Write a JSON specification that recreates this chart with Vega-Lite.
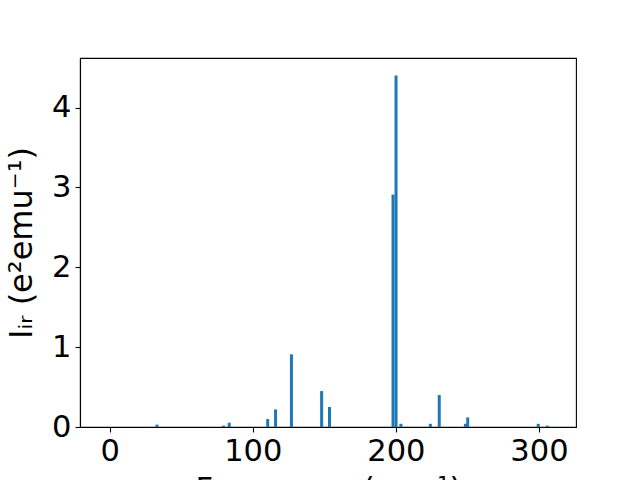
{
  "$schema": "https://vega.github.io/schema/vega-lite/v6.json",
  "width": 496,
  "height": 369,
  "autosize": {"type": "none"},
  "padding": {"left": 80, "top": 58, "right": 64, "bottom": 53},
  "background": "white",
  "config": {
    "view": {"stroke": "black", "strokeWidth": 1.1},
    "axis": {
      "grid": false,
      "domainColor": "black",
      "domainWidth": 1.1,
      "tickColor": "black",
      "tickWidth": 1.1,
      "tickSize": 5,
      "labelFont": "DejaVu Sans",
      "labelFontSize": 30.5,
      "labelColor": "black",
      "titleFont": "DejaVu Sans",
      "titleFontSize": 30.5,
      "titleFontWeight": "normal",
      "titleColor": "black",
      "labelPadding": 4
    }
  },
  "data": {
    "values": [
      {"freq": 33, "ir": 0.03},
      {"freq": 79.5, "ir": 0.017},
      {"freq": 83.5, "ir": 0.054},
      {"freq": 110.4, "ir": 0.10},
      {"freq": 115.9, "ir": 0.22},
      {"freq": 127, "ir": 0.91},
      {"freq": 148.1, "ir": 0.45},
      {"freq": 153.6, "ir": 0.25},
      {"freq": 198, "ir": 2.91},
      {"freq": 200.1, "ir": 4.40},
      {"freq": 203.5, "ir": 0.04},
      {"freq": 224.1, "ir": 0.04},
      {"freq": 230.3, "ir": 0.40},
      {"freq": 248.6, "ir": 0.04},
      {"freq": 250.2, "ir": 0.12},
      {"freq": 299.5, "ir": 0.04},
      {"freq": 305.8, "ir": 0.017}
    ]
  },
  "mark": {"type": "bar", "color": "#1f77b4", "size": 3},
  "encoding": {
    "x": {
      "field": "freq",
      "type": "quantitative",
      "scale": {"domain": [-17.3, 322.4], "nice": false, "zero": false},
      "axis": {"values": [0, 100, 200, 300], "title": "Frequency (cm⁻¹)", "titlePadding": 8}
    },
    "y": {
      "field": "ir",
      "type": "quantitative",
      "scale": {"domain": [0, 4.62], "nice": false},
      "axis": {"values": [0, 1, 2, 3, 4], "title": "Iᵢᵣ (e²emu⁻¹)", "titlePadding": 13, "titleFontSize": 32}
    }
  }
}
